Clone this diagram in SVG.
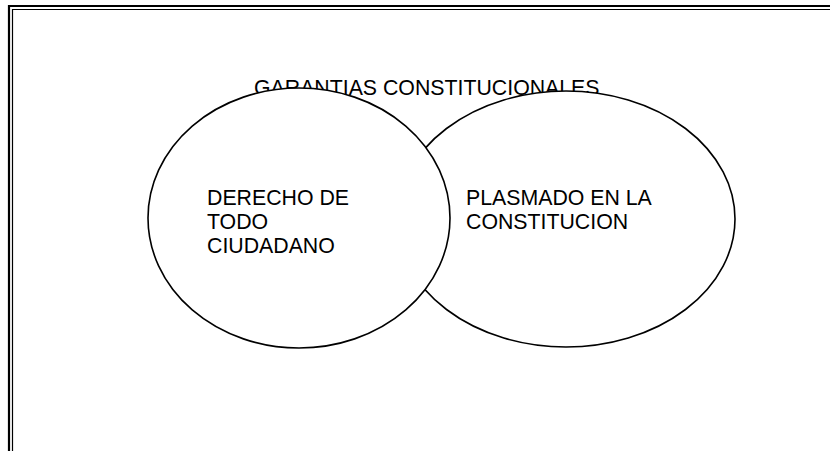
<svg xmlns="http://www.w3.org/2000/svg" width="830" height="451" viewBox="0 0 830 451">
<style>
.t{font-family:"Liberation Sans",Arial,sans-serif;font-size:21.3px;fill:#000}
.e{fill:#fff;stroke:#000;stroke-width:1.6}
.b{fill:none;stroke:#000}
</style>
<rect width="830" height="451" fill="#fff"/>
<g id="border">
<path class="b" d="M9 451V6H830" stroke-width="2.2"/>
<path class="b" d="M12.5 451V9.5H830" stroke-width="1.2"/>
</g>
<g id="title"><text class="t" x="254" y="95">GARANTIAS CONSTITUCIONALES</text></g>
<g id="connectors"></g>
<g id="right">
<ellipse class="e" cx="566" cy="219" rx="169" ry="128"/>
<text class="t" x="466" y="205">PLASMADO EN LA</text>
<text class="t" x="466" y="229">CONSTITUCION</text>
</g>
<g id="left">
<ellipse class="e" cx="299" cy="218" rx="151" ry="130"/>
<text class="t" x="207" y="205">DERECHO DE</text>
<text class="t" x="207" y="229">TODO</text>
<text class="t" x="207" y="253">CIUDADANO</text>
</g>
</svg>
